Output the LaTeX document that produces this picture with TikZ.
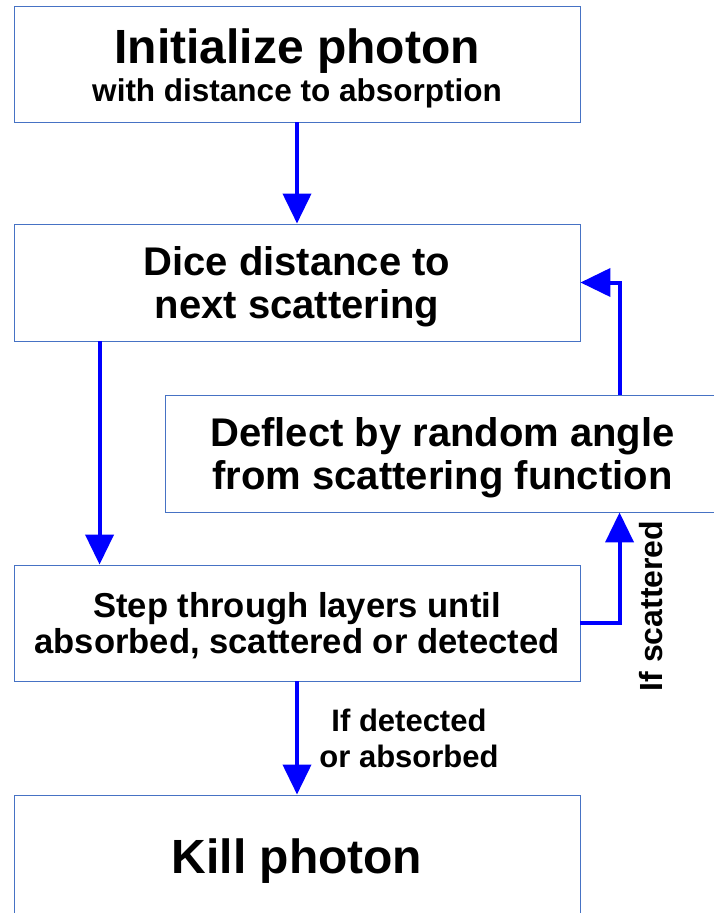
\documentclass[tikz,border=0pt]{standalone}
\usepackage{fontspec}
\setmainfont{Liberation Sans}
\usetikzlibrary{arrows.meta}
\definecolor{boxline}{RGB}{70,114,196}
\definecolor{arrblue}{RGB}{0,0,255}
\begin{document}
\begin{tikzpicture}[x=1pt,y=-1pt,
  box/.style={draw=boxline, line width=0.9pt, rectangle, inner sep=0pt, align=center, font=\bfseries},
  arr/.style={draw=arrblue, line width=4pt, -{Triangle[length=30pt,width=28pt]}},
  lbl/.style={align=center, font=\bfseries\fontsize{31}{36}\selectfont}]
\useasboundingbox (0,0) rectangle (714,913);
\fill[white] (0,0) rectangle (714,913);
\node[box, minimum width=566pt, minimum height=116pt] (b1) at (297,64)
  {{\fontsize{48}{50}\selectfont\rule{0pt}{44pt}Initialize photon}\\[4pt]{\fontsize{31.5}{34}\selectfont with distance to absorption}};
\node[box, minimum width=566pt, minimum height=117pt, font=\bfseries\fontsize{40}{43}\selectfont] (b2) at (297,282.5)
  {\rule{0pt}{38pt}Dice distance to\\next scattering};
\node[box, minimum width=555pt, minimum height=117pt, font=\bfseries\fontsize{40}{43}\selectfont] (b3) at (442.5,453.5)
  {\rule{0pt}{37pt}Deflect by random angle\\from scattering function};
\node[box, minimum width=566pt, minimum height=116pt, font=\bfseries\fontsize{34.6}{36}\selectfont] (b4) at (297,623)
  {\rule{0pt}{31pt}Step through layers until\\absorbed, scattered or detected};
\node[box, minimum width=566pt, minimum height=125pt, font=\bfseries\fontsize{48}{50}\selectfont] (b5) at (297,857.5)
  {\rule{0pt}{41pt}Kill photon};
\draw[arr] (b1.south) -- (b2.north);
\draw[arr] ([xshift=86pt]b2.south west) -- ([xshift=86pt]b4.north west);
\draw[arr] (b4.east) -| ([xshift=455pt]b3.south west);
\draw[arr] ([xshift=455pt]b3.north west) |- (b2.east);
\draw[arr] (b4.south) -- (b5.north);
\node[lbl] (l1) at (409,738) {If detected\\or absorbed};
\node[lbl, rotate=90, font=\bfseries\fontsize{32}{36}\selectfont] (l2) at (651,606) {If scattered};
\end{tikzpicture}
\end{document}
